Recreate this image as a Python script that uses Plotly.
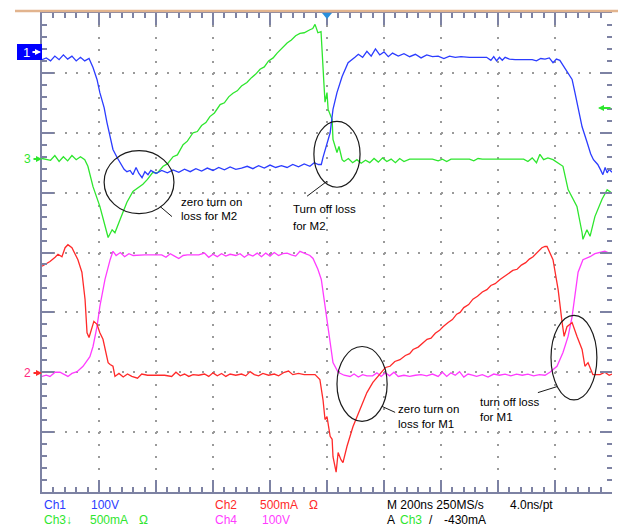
import plotly.graph_objects as go

# ---------------- data (time in ns, trigger at 0; amplitude in screen divisions) ----------------
ch1_t = [-1000,-985,-970,-955,-940,-925,-910,-895,-880,-865,-850,-835,-821,-807,-797,-782,-772,-761,-751,-737,
         -726,-712,-702,-691,-681,-670,-660,-649,-639,-628,-618,-600,-580,-560,-540,-520,-500,-480,-460,-440,
         -420,-400,-380,-360,-340,-320,-300,-280,-260,-240,-220,-200,-180,-160,-140,-120,-100,-80,-60,-45,
         -30,-20,-14,-4,11,21,35,53,74,98,110,125,140,155,170,185,200,215,230,250,270,290,310,330,350,370,
         390,410,430,450,470,500,530,560,575,585,595,605,615,625,640,660,700,720,735,750,765,780,793,805,817,
         830,842,860,870,881,895,912,925,935,950,960,968,976,983,990,1000]
ch1_v = [3.22,3.25,3.20,3.28,3.22,3.30,3.23,3.28,3.20,3.26,3.20,3.24,3.09,2.89,2.67,2.42,2.17,1.92,1.72,1.59,
         1.50,1.39,1.35,1.37,1.30,1.42,1.32,1.25,1.35,1.30,1.37,1.32,1.37,1.33,1.38,1.34,1.39,1.35,1.40,1.36,
         1.41,1.37,1.42,1.38,1.43,1.39,1.41,1.44,1.40,1.45,1.41,1.46,1.42,1.45,1.42,1.47,1.43,1.48,1.44,1.50,
         1.47,1.47,1.59,1.75,2.00,2.39,2.67,2.94,3.17,3.26,3.31,3.26,3.36,3.28,3.40,3.30,3.35,3.27,3.33,3.28,3.32,3.27,3.31,3.25,3.30,3.27,
         3.28,3.24,3.28,3.26,3.27,3.26,3.26,3.26,3.21,3.27,3.20,3.26,3.21,3.26,3.23,3.22,3.22,3.22,3.20,3.24,3.23,3.25,3.17,3.23,3.21,
         3.12,3.02,2.89,2.67,2.39,2.10,1.85,1.65,1.55,1.47,1.38,1.30,1.42,1.33,1.39,1.34]

ch3_t = [-1000,-985,-970,-955,-940,-925,-910,-895,-880,-865,-850,-839,-821,-797,-772,-768,-754,-744,-726,-702,
         -681,-664,-646,-630,-611,-595,-575,-560,-540,-525,-505,-490,-470,-455,-440,-425,-411,-395,-375,-360,
         -345,-330,-315,-300,-281,-265,-250,-235,-220,-205,-189,-175,-160,-140,-125,-110,-95,-80,-60,-50,
         -42,-32,-21,-14,-11,-7,0,4,18,21,35,42,53,60,75,90,105,120,135,150,165,180,195,210,225,240,255,270,
         290,310,340,370,390,405,420,435,450,480,500,515,530,545,580,620,660,690,705,720,735,747,760,775,793,
         828,846,877,895,898,912,923,940,965,983,997]
ch3_v = [1.57,1.56,1.54,1.62,1.52,1.60,1.53,1.62,1.55,1.60,1.55,1.44,1.10,0.77,0.33,0.25,0.38,0.33,0.55,0.84,
         1.02,1.08,1.14,1.22,1.34,1.33,1.44,1.48,1.60,1.63,1.80,1.86,2.00,2.02,2.12,2.17,2.27,2.33,2.47,2.50,
         2.60,2.66,2.70,2.78,2.84,2.92,2.98,3.06,3.10,3.20,3.25,3.33,3.40,3.50,3.55,3.62,3.66,3.67,3.72,3.74,
         3.81,3.67,3.69,3.22,2.84,2.51,2.67,2.39,2.22,1.89,1.67,1.77,1.55,1.52,1.57,1.50,1.55,1.49,1.54,1.50,1.57,1.51,1.58,1.52,1.56,1.50,1.57,1.52,
         1.56,1.56,1.56,1.56,1.53,1.56,1.52,1.56,1.56,1.56,1.56,1.53,1.57,1.56,1.56,1.56,1.56,1.56,1.52,1.58,1.50,1.64,1.55,1.58,1.55,
         1.44,1.05,0.77,0.33,0.22,0.38,0.27,0.60,0.89,1.05,1.00]

ch2_t = [-1000,-972,-954,-944,-930,-919,-909,-895,-874,-860,-849,-842,-835,-825,-818,-807,-797,-786,-775,-768,
         -761,-751,-744,-730,-715,-700,-685,-665,-650,-630,-600,-570,-545,-530,-515,-500,-485,-470,-450,-430,
         -415,-400,-385,-370,-355,-340,-320,-300,-285,-270,-255,-240,-225,-205,-185,-170,-150,-135,-120,-100,
         -80,-60,-42,-25,-14,-7,0,11,18,21,32,39,49,56,70,91,116,140,161,193,205,221,238,256,275,290,302,320,
         335,351,365,380,395,407,425,440,455,467,480,497,512,528,545,561,575,590,607,622,637,652,667,682,697,
         710,723,740,754,765,772,793,811,825,832,842,860,877,895,905,916,933,958,975,990,1000]
ch2_v = [-0.23,-0.15,-0.08,-0.03,-0.07,0.08,0.13,0.08,-0.12,-0.33,-0.78,-1.34,-1.42,-1.24,-1.15,-1.20,-1.34,-1.45,-1.67,-1.84,
         -1.87,-1.90,-2.07,-2.02,-2.08,-2.03,-2.07,-2.10,-2.03,-2.05,-2.05,-2.05,-2.07,-2.00,-2.06,-2.03,-2.07,-2.04,-2.05,-2.03,
         -2.07,-2.01,-2.06,-2.02,-2.07,-2.03,-2.05,-2.03,-2.06,-1.99,-2.04,-2.06,-2.02,-2.05,-2.03,-2.06,-2.00,-1.98,-2.04,-2.02,
         -2.04,-2.04,-2.04,-2.12,-2.46,-2.79,-2.74,-3.07,-3.12,-3.41,-3.67,-3.34,-3.46,-3.51,-3.24,-2.91,-2.62,-2.34,-2.17,-2.00,-1.92,-1.90,-1.82,-1.79,-1.72,-1.69,-1.62,-1.58,
         -1.52,-1.45,-1.43,-1.35,-1.30,-1.24,-1.17,-1.12,-1.03,-1.00,-0.92,-0.87,-0.78,-0.73,-0.66,-0.62,-0.55,-0.52,-0.45,-0.40,-0.36,-0.30,-0.28,-0.21,-0.17,
         -0.11,-0.07,0.02,0.08,0.10,0.10,-0.12,-0.62,-1.17,-1.40,-1.24,-1.17,-1.40,-1.62,-1.90,-1.84,-2.04,-2.04,-2.00,-2.05,-2.03]

ch4_t = [-1000,-985,-972,-954,-937,-920,-909,-895,-877,-856,-832,-821,-807,-797,-779,-761,-751,-740,-725,-710,
         -695,-680,-660,-640,-620,-600,-580,-565,-550,-535,-520,-505,-490,-470,-450,-430,-415,-400,-385,-370,
         -355,-340,-320,-305,-290,-275,-260,-245,-230,-215,-200,-185,-170,-155,-140,-125,-110,-95,-75,-60,
         -49,-32,-20,-7,11,21,39,60,81,95,110,125,140,160,175,190,205,220,235,250,270,290,310,330,350,370,
         390,405,420,435,450,465,480,495,510,525,545,565,585,605,625,645,665,685,705,725,745,765,782,807,828,
         846,860,870,881,898,923,940,958,975,990,1000]
ch4_v = [-2.07,-2.05,-2.07,-2.00,-2.00,-2.05,-2.07,-2.02,-1.99,-1.90,-1.74,-1.57,-1.24,-0.90,-0.45,-0.12,0.02,-0.05,0.00,-0.07,
         -0.02,-0.05,-0.04,-0.04,-0.04,-0.04,-0.04,-0.08,-0.02,-0.06,-0.10,-0.05,-0.04,-0.04,-0.04,-0.01,-0.08,-0.03,-0.07,-0.02,
         -0.06,-0.03,-0.05,-0.02,-0.08,-0.03,-0.06,-0.01,-0.07,-0.01,-0.06,0.00,-0.05,-0.02,-0.01,-0.04,-0.06,0.02,-0.02,-0.05,
         -0.10,-0.28,-0.45,-0.90,-1.45,-1.84,-2.00,-2.05,-2.07,-2.03,-2.08,-2.04,-2.06,-2.06,-2.01,-2.07,-2.01,-2.06,-2.00,-2.07,-2.05,-2.07,-2.05,-2.04,-2.06,-2.03,
         -2.07,-2.00,-2.07,-2.01,-2.05,-1.99,-2.08,-2.03,-2.05,-2.07,-2.04,-2.08,-2.03,-2.05,-2.03,-2.06,-2.03,-2.05,-2.03,-2.06,-2.04,-2.05,-2.00,-1.90,-1.67,
         -1.40,-1.07,-0.67,-0.33,-0.12,-0.07,-0.02,0.00,0.02,-0.01,0.00]

notes = [("zero turn on", "loss for M2"), ("Turn off loss", "for M2"),
         ("zero turn on", "loss for M1"), ("turn off loss", "for M1")]

# ---------------- styles ----------------
C1, C2, C3, C4 = "#2b3cff", "#ff2a2a", "#2ee62e", "#ff3cff"
AX = "#7d82a3"
FONT = "Liberation Sans, Arial, sans-serif"

fig = go.Figure()
for t, v, c, n in [(ch3_t, ch3_v, C3, "Ch3"), (ch1_t, ch1_v, C1, "Ch1"),
                   (ch4_t, ch4_v, C4, "Ch4"), (ch2_t, ch2_v, C2, "Ch2")]:
    fig.add_trace(go.Scatter(x=t, y=v, mode="lines", name=n,
                             line=dict(color=c, width=1.3), hoverinfo="skip"))
# invisible trace to anchor right-side tick axis
fig.add_trace(go.Scatter(x=[None], y=[None], yaxis="y2", showlegend=False))

W, H = 618, 529
L, R, T, B = 42, 6, 13, 37
PW, PH = W - L - R, H - T - B

def px(xp):
    return (xp - L) / PW

def py(yp):
    return (H - B - yp) / PH

shapes = []
# top tan band
shapes.append(dict(type="line", xref="paper", yref="paper", x0=px(15), x1=px(618),
                   y0=py(11), y1=py(11), line=dict(color="#e2b48e", width=2.5)))
# ellipses (data coords)
ells = [(-782, -537, 0.65, 1.70), (-46, 116, 1.09, 2.19), (35, 211, -2.82, -1.57), (786, 947, -2.46, -1.05)]
for x0, x1, y0, y1 in ells:
    shapes.append(dict(type="circle", xref="x", yref="y", x0=x0, x1=x1, y0=y0, y1=y1,
                       line=dict(color="#1a1a1a", width=1.2)))
leaders = [(-586, 0.77, -544, 0.60), (0, 1.19, -70, 0.94), (193, -2.57, 239, -2.67), (807, -2.24, 740, -2.34)]
for x0, y0, x1, y1 in leaders:
    shapes.append(dict(type="line", xref="x", yref="y", x0=x0, y0=y0, x1=x1, y1=y1,
                       line=dict(color="#1a1a1a", width=1)))
# channel-1 marker box
shapes.append(dict(type="rect", xref="paper", yref="paper", x0=px(17), x1=px(42),
                   y0=py(60), y1=py(44), fillcolor="#0000ff", line=dict(width=0)))
# trigger position marker
shapes.append(dict(type="path", xref="paper", yref="paper",
                   path=f"M {px(322)},{py(13)} L {px(332)},{py(13)} L {px(327)},{py(19)} Z",
                   fillcolor="#2a8fdc", line=dict(width=0)))

ann = []
def txt(x, y, s, color="black", xref="paper", yref="paper", xanchor="left", size=12):
    ann.append(dict(x=x, y=y, xref=xref, yref=yref, text=s, showarrow=False,
                    xanchor=xanchor, yanchor="middle", font=dict(family=FONT, size=size, color=color)))

def arrow(xh, yh, dx, color):
    ann.append(dict(x=px(xh), y=py(yh), xref="paper", yref="paper", text="", showarrow=True,
                    ax=dx, ay=0, arrowhead=2, arrowsize=0.6, arrowwidth=2, arrowcolor=color, standoff=0))

# note texts (data coords)
note_pos = [(-519, 0.84, 0.61), (-126, 0.72, 0.44), (242, -2.62, -2.86), (530, -2.49, -2.75)]
for (l1, l2), (x, y1, y2) in zip(notes, note_pos):
    txt(x, y1, l1, xref="x", yref="y", size=11.5)
    txt(x, y2, l2, xref="x", yref="y", size=11.5)

# left channel markers
txt(px(26), py(52), "1", color="white", xanchor="center", size=13)
arrow(41, 52, -10, "white")
txt(px(27), py(159), "3", color=C3, xanchor="center")
arrow(42, 159, -10, C3)
txt(px(27), py(373), "2", color="#ff2a80", xanchor="center")
arrow(42, 373, -10, C2)
arrow(598, 108, 14, C3)

# bottom readout
r1, r2 = py(505), py(520)
txt(px(42), r1, "Ch1", C1); txt(px(89), r1, "100V", C1)
txt(px(213), r1, "Ch2", C2); txt(px(258), r1, "500mA", C2); txt(px(307), r1, "Ω", C2)
txt(px(385), r1, "M 200ns 250MS/s"); txt(px(508), r1, "4.0ns/pt")
txt(px(42), r2, "Ch3↓", C3); txt(px(88), r2, "500mA", C3); txt(px(137), r2, "Ω", C3)
txt(px(213), r2, "Ch4", C4); txt(px(260), r2, "100V", C4)
txt(px(385), r2, "A"); txt(px(398), r2, "Ch3", C3); txt(px(427), r2, "/"); txt(px(442), r2, "-430mA")

fig.update_layout(
    width=W, height=H, margin=dict(l=L, r=R, t=T, b=B, pad=0),
    paper_bgcolor="white", plot_bgcolor="white", showlegend=False,
    shapes=shapes, annotations=ann,
    xaxis=dict(range=[-1000, 1000], tick0=0, dtick=200, showticklabels=False,
               ticks="inside", ticklen=12, tickwidth=1.5, tickcolor=AX,
               showline=True, linecolor=AX, linewidth=2, mirror="ticks",
               showgrid=True, gridcolor="#9a9a9a", gridwidth=2, griddash="2px,9.975px",
               zeroline=False, fixedrange=True,
               minor=dict(dtick=40, ticks="inside", ticklen=5, tickwidth=1.5, tickcolor=AX, showgrid=False)),
    yaxis=dict(range=[-4, 4], tick0=0, dtick=1, showticklabels=False,
               ticks="inside", ticklen=12, tickwidth=1.5, tickcolor=AX,
               showline=True, linecolor=AX, linewidth=2, mirror=False,
               showgrid=True, gridcolor="#9a9a9a", gridwidth=2, griddash="2px,9.4px",
               zeroline=False, fixedrange=True,
               minor=dict(dtick=0.2, ticks="inside", ticklen=5, tickwidth=1.5, tickcolor=AX, showgrid=False)),
    yaxis2=dict(range=[-4, 4], overlaying="y", side="right", tick0=0, dtick=1, showticklabels=False,
                ticks="inside", ticklen=12, tickwidth=1.5, tickcolor=AX, showline=False,
                showgrid=False, zeroline=False, fixedrange=True,
                minor=dict(dtick=0.2, ticks="inside", ticklen=5, tickwidth=1.5, tickcolor=AX, showgrid=False)),
)

fig.write_html("out.html", config={"displayModeBar": False},
               post_script="document.body.style.margin='0';document.body.style.padding='0';")
